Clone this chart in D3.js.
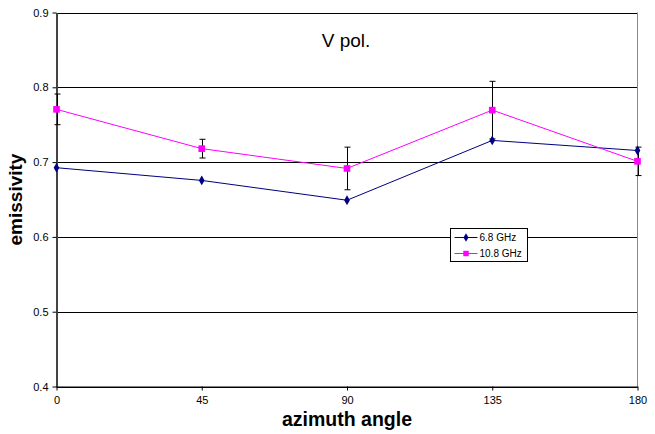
<!DOCTYPE html>
<html><head><meta charset="utf-8">
<script src="https://cdn.jsdelivr.net/npm/d3@7"></script>
<style>body{margin:0;background:#fff}svg{display:block;font-family:Arial,"Liberation Sans",sans-serif}</style>
</head><body><svg id="c" width="655" height="434"></svg>
<script>
const angles = [0, 45, 90, 135, 180];
const em68 = [0.6925, 0.6755, 0.649, 0.729, 0.7155];
const em108 = [0.7705, 0.718, 0.6915, 0.7695, 0.701];
const err108 = [0.0205, 0.0125, 0.0285, 0.0385, 0.019];
const yTicks = [0.4, 0.5, 0.6, 0.7, 0.8, 0.9];
const seriesNames = ["6.8 GHz", "10.8 GHz"];

const svg = d3.select("#c");
const L = 56.5, R = 637.5, T = 12.5, B = 386.5;
const x = d3.scaleLinear().domain([0, 180]).range([L, R]);
const y = d3.scaleLinear().domain([0.4, 0.9]).range([B, T]);

// gridlines
svg.append("g").selectAll("line").data(yTicks).join("line")
  .attr("x1", L).attr("x2", R).attr("y1", d => Math.round(y(d)) + 0.5).attr("y2", d => Math.round(y(d)) + 0.5)
  .attr("stroke", "#000").attr("stroke-width", 1);
// right border
svg.append("line").attr("x1", R).attr("x2", R).attr("y1", T).attr("y2", B).attr("stroke", "#888");

// axes
const yAxis = d3.axisLeft(y).tickValues(yTicks).tickFormat(d3.format(".1f")).tickSize(4).tickSizeOuter(0);
const gy = svg.append("g").attr("transform", `translate(${L},0)`).call(yAxis);
gy.select(".domain").attr("stroke", "#444").attr("stroke-width", 2);
gy.selectAll(".tick line").attr("stroke", "#000");
gy.selectAll("text").attr("font-size", 11).attr("fill", "#000").attr("dx", "-1").attr("font-family", "Arial, Liberation Sans, sans-serif");

const xAxis = d3.axisBottom(x).tickValues(angles).tickSize(4).tickSizeOuter(0);
const gx = svg.append("g").attr("transform", `translate(0,${B})`).call(xAxis);
gx.select(".domain").attr("stroke", "#000");
gx.selectAll("text").attr("font-size", 11).attr("fill", "#000").attr("dy", "0.95em").attr("font-family", "Arial, Liberation Sans, sans-serif");

// error bars for 10.8 GHz
const eb = svg.append("g").attr("stroke", "#000").attr("stroke-width", 1);
angles.forEach((a, i) => {
  const cx = Math.round(x(a)) + 0.5, yt = y(em108[i] + err108[i]), yb = y(em108[i] - err108[i]);
  eb.append("line").attr("x1", cx).attr("x2", cx).attr("y1", yt).attr("y2", yb);
  eb.append("line").attr("x1", cx - 3).attr("x2", cx + 3).attr("y1", yt).attr("y2", yt);
  eb.append("line").attr("x1", cx - 3).attr("x2", cx + 3).attr("y1", yb).attr("y2", yb);
});

const line = d3.line().x((d, i) => x(angles[i])).y(d => y(d));
svg.append("path").datum(em68).attr("d", line).attr("fill", "none").attr("stroke", "#000080").attr("stroke-width", 1);
svg.append("path").datum(em108).attr("d", line).attr("fill", "none").attr("stroke", "#FF00FF").attr("stroke-width", 1);

const diamond = d3.symbol().type(d3.symbolDiamond).size(28);
const square = d3.symbol().type(d3.symbolSquare).size(44);
svg.append("g").selectAll("path").data(em68).join("path")
  .attr("d", diamond).attr("transform", (d, i) => `translate(${x(angles[i])},${y(d)})`).attr("fill", "#000080");
svg.append("g").selectAll("path").data(em108).join("path")
  .attr("d", square).attr("transform", (d, i) => `translate(${x(angles[i])},${y(d)})`).attr("fill", "#FF00FF");

// title
svg.append("text").attr("x", 346).attr("y", 47).attr("text-anchor", "middle").attr("font-size", 19).text("V pol.");

// axis titles
svg.append("text").attr("x", 347).attr("y", 426).attr("text-anchor", "middle").attr("font-size", 19.5).attr("font-weight", "bold").text("azimuth angle");
svg.append("text").attr("transform", "translate(22,199.5) rotate(-90)").attr("text-anchor", "middle").attr("font-size", 19).attr("font-weight", "bold").text("emissivity");

// legend
const lg = svg.append("g").attr("transform", "translate(450.5,228.5)");
lg.append("rect").attr("width", 77).attr("height", 33).attr("fill", "#fff").attr("stroke", "#000");
const colors = ["#000080", "#FF00FF"];
seriesNames.forEach((n, i) => {
  const yy = 9 + i * 16;
  lg.append("line").attr("x1", 4).attr("x2", 27).attr("y1", yy).attr("y2", yy).attr("stroke", colors[i]);
  lg.append("path").attr("d", i === 0 ? d3.symbol().type(d3.symbolDiamond).size(22)() : d3.symbol().type(d3.symbolSquare).size(30)())
    .attr("transform", `translate(15.5,${yy})`).attr("fill", colors[i]);
  lg.append("text").attr("x", 29).attr("y", yy + 3.5).attr("font-size", 10).text(n);
});
</script></body></html>
